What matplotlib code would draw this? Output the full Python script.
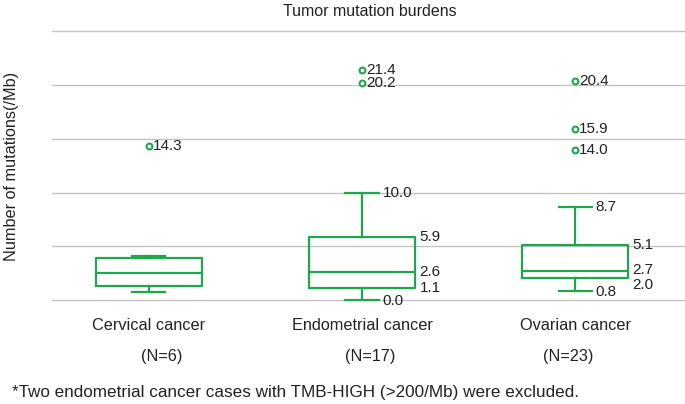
import matplotlib
matplotlib.use('Agg')
import matplotlib.pyplot as plt
import matplotlib.transforms as mtransforms

plt.rcParams['font.family'] = ['Liberation Sans', 'DejaVu Sans']

# data
categories = ['Cervical cancer', 'Endometrial cancer', 'Ovarian cancer']
n_labels = ['(N=6)', '(N=17)', '(N=23)']
whislo = [0.7, 0.0, 0.8]
q1 = [1.3, 1.1, 2.0]
med = [2.5, 2.6, 2.7]
q3 = [3.9, 5.9, 5.1]
whishi = [4.1, 10.0, 8.7]
fliers = [[14.3], [21.4, 20.2], [20.4, 15.9, 14.0]]
show_values = [False, True, True]

green = '#1fa84b'
txt = '#222222'

fig = plt.figure(figsize=(6.85, 4.04), dpi=100)
ax = fig.add_axes([52/685, 0.2309, 633/685, 0.7045])

stats = []
for i in range(len(categories)):
    stats.append({'whislo': whislo[i], 'q1': q1[i], 'med': med[i], 'q3': q3[i],
                  'whishi': whishi[i], 'fliers': fliers[i]})

pos = list(range(len(categories)))
bw = 0.5
cw = 0.155
lw = 1.6
ax.bxp(stats, positions=pos, widths=bw, capwidths=cw, showfliers=True,
       boxprops=dict(color=green, linewidth=lw),
       whiskerprops=dict(color=green, linewidth=lw),
       capprops=dict(color=green, linewidth=lw),
       medianprops=dict(color=green, linewidth=lw),
       flierprops=dict(marker='o', markersize=4.2, markerfacecolor='white',
                       markeredgecolor=green, markeredgewidth=1.5))

fs_val = 11
for i in pos:
    for v in fliers[i]:
        ax.annotate('%.1f' % v, (i, v), xytext=(3, 0), textcoords='offset points',
                    va='center', ha='left', fontsize=fs_val, color=txt)
    if not show_values[i]:
        continue
    # whisker values next to caps, box values next to box edge
    for v, dx, dy in [(whishi[i], cw/2, 0), (whislo[i], cw/2, -0.5)]:
        ax.annotate('%.1f' % v, (i + dx, v), xytext=(3, dy), textcoords='offset points',
                    va='center', ha='left', fontsize=fs_val, color=txt)
    dys = [0, 0, 0] if i == 1 else [0, 1, -4.5]
    for v, dy in zip([q3[i], med[i], q1[i]], dys):
        ax.annotate('%.1f' % v, (i + bw/2, v), xytext=(3, dy), textcoords='offset points',
                    va='center', ha='left', fontsize=fs_val, color=txt)

ax.set_xlim(-0.455, 2.516)
ax.set_ylim(-1, 25.5)
ax.set_yticks([0, 5, 10, 15, 20, 25])
ax.set_yticklabels([])
ax.yaxis.grid(True, color='#c4c4c4', linewidth=1.0)
ax.set_axisbelow(True)
ax.tick_params(axis='both', length=0)
ax.set_xticks(pos)
ax.set_xticklabels(categories, fontsize=11.7, color=txt)
ax.tick_params(axis='x', pad=5)
for s in ax.spines.values():
    s.set_visible(False)

# N labels sit slightly off the category centres
n_off = [0.06, 0.04, -0.03]
tr = mtransforms.blended_transform_factory(ax.transData, fig.transFigure)
for i, lab in enumerate(n_labels):
    fig.text(i + n_off[i], (404 - 357) / 404, lab, transform=tr, ha='center',
             va='center', fontsize=11.7, color=txt)

fig.text(370/685, (404 - 12) / 404, 'Tumor mutation burdens', ha='center', va='center',
         fontsize=11.5, color=txt)
fig.text(12/685, (404 - 166) / 404, 'Number of mutations(/Mb)', ha='center', va='center',
         rotation=90, fontsize=11.7, color=txt)
fig.text(12/685, (404 - 393) / 404,
         '*Two endometrial cancer cases with TMB-HIGH (>200/Mb) were excluded.',
         ha='left', va='center', fontsize=12.3, color=txt)

fig.savefig('out.png', dpi=100)
